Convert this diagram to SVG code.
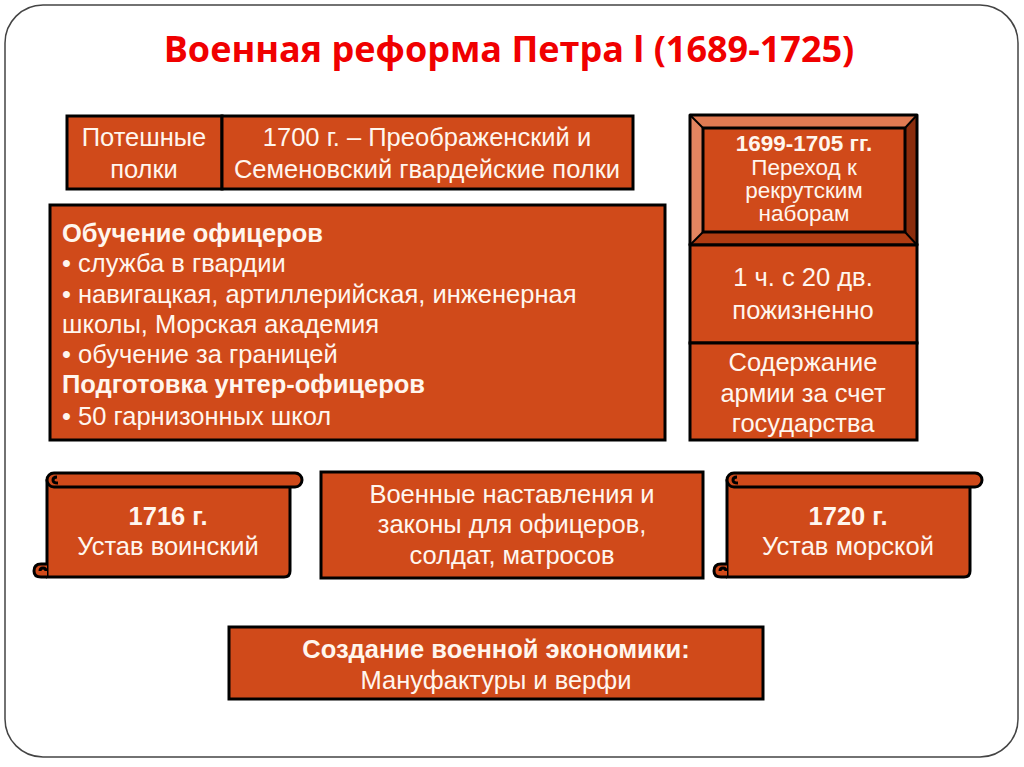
<svg xmlns="http://www.w3.org/2000/svg" width="1024" height="767" viewBox="0 0 1024 767">
<style>
.box{fill:#D04A1A;stroke:#000;stroke-width:3}
.sc{fill:#D04A1A;stroke:#000;stroke-width:3;stroke-linejoin:round}
.t{font-family:"Liberation Sans",Arial,sans-serif;font-size:25.5px;fill:#FFF6EE}
.s{font-size:22.5px}
.c{text-anchor:middle}
.b{font-weight:bold}
.ln{fill:none;stroke:#000;stroke-width:3;stroke-linejoin:round}
</style>
<rect x="0" y="0" width="1024" height="767" fill="#fff"/>
<rect x="5" y="5" width="1013" height="752" rx="38" ry="38" fill="#fff" stroke="#444" stroke-width="1.5"/>
<text x="509" y="62" text-anchor="middle" font-family="'Open Sans','Liberation Sans',sans-serif" font-weight="bold" font-size="36" fill="#F00000">Военная реформа Петра l (1689-1725)</text>

<g id="poteshnye">
<rect class="box" x="67" y="116" width="155" height="73"/>
<text class="t c" x="144" y="146">Потешные</text>
<text class="t c" x="144" y="178">полки</text>
</g>
<g id="gvardia">
<rect class="box" x="222" y="116" width="411" height="73"/>
<text class="t c" x="427" y="146">1700 г. – Преображенский и</text>
<text class="t c" x="427" y="178">Семеновский гвардейские полки</text>
</g>

<g id="obuchenie">
<rect class="box" x="50" y="205" width="615" height="235"/>
<text class="t b" x="62" y="242">Обучение офицеров</text>
<text class="t" x="62" y="272">• служба в гвардии</text>
<text class="t" x="62" y="303">• навигацкая, артиллерийская, инженерная</text>
<text class="t" x="62" y="333">школы, Морская академия</text>
<text class="t" x="62" y="363">• обучение за границей</text>
<text class="t b" x="62" y="393">Подготовка унтер-офицеров</text>
<text class="t" x="62" y="425">• 50 гарнизонных школ</text>
</g>

<g id="rekrut">
<rect x="690" y="115" width="227" height="130" fill="#D04A1A"/>
<polygon points="690,115 917,115 905,128 703,128" fill="#E07A52"/>
<polygon points="690,115 703,128 703,232 690,245" fill="#E38560"/>
<polygon points="917,115 917,245 905,232 905,128" fill="#8A2C0C"/>
<polygon points="690,245 703,232 905,232 917,245" fill="#B03C12"/>
<rect x="690" y="115" width="227" height="130" class="ln"/>
<rect x="703" y="128" width="202" height="104" class="ln"/>
<line x1="690" y1="115" x2="703" y2="128" stroke="#000" stroke-width="2"/>
<line x1="917" y1="115" x2="905" y2="128" stroke="#000" stroke-width="2"/>
<line x1="690" y1="245" x2="703" y2="232" stroke="#000" stroke-width="2"/>
<line x1="917" y1="245" x2="905" y2="232" stroke="#000" stroke-width="2"/>
<text class="t s c b" x="804" y="151">1699-1705 гг.</text>
<text class="t s c" x="804" y="175">Переход к</text>
<text class="t s c" x="804" y="198">рекрутским</text>
<text class="t s c" x="804" y="221">наборам</text>
</g>
<g id="dvor">
<rect class="box" x="690" y="245" width="227" height="98"/>
<text class="t c" x="803" y="286">1 ч. с 20 дв.</text>
<text class="t c" x="803" y="319">пожизненно</text>
</g>
<g id="soderzhanie">
<rect class="box" x="690" y="343" width="227" height="97"/>
<text class="t c" x="803" y="371">Содержание</text>
<text class="t c" x="803" y="402">армии за счет</text>
<text class="t c" x="803" y="432">государства</text>
</g>

<g id="ustav-voinsky">
<path d="M47,480 L290,480 L290,571 Q290,577 284,577 L47,577 Z" class="sc"/>
<rect x="47" y="473" width="255" height="14" rx="7" class="sc"/>
<path d="M58,483 Q53,483 53,480 Q53,477 57,477" class="ln" stroke-width="2"/>
<path d="M47,577 L41,577 Q34,577 34,571 Q34,564 41,564 L47,564" class="sc"/>
<path d="M40,571 Q40,568 43,568 Q46,568 46,571" class="ln" stroke-width="2"/>
<text class="t c b" x="168" y="525">1716 г.</text>
<text class="t c" x="168" y="555">Устав воинский</text>
</g>

<g id="nastavleniya">
<rect class="box" x="321" y="472" width="382" height="106"/>
<text class="t c" x="512" y="503">Военные наставления и</text>
<text class="t c" x="512" y="533">законы для офицеров,</text>
<text class="t c" x="512" y="564">солдат, матросов</text>
</g>

<g id="ustav-morskoy">
<path d="M727,480 L970,480 L970,571 Q970,577 964,577 L727,577 Z" class="sc"/>
<rect x="727" y="473" width="255" height="14" rx="7" class="sc"/>
<path d="M738,483 Q733,483 733,480 Q733,477 737,477" class="ln" stroke-width="2"/>
<path d="M727,577 L721,577 Q714,577 714,571 Q714,564 721,564 L727,564" class="sc"/>
<path d="M720,571 Q720,568 723,568 Q726,568 726,571" class="ln" stroke-width="2"/>
<text class="t c b" x="848" y="525">1720 г.</text>
<text class="t c" x="848" y="555">Устав морской</text>
</g>

<g id="ekonomika">
<rect class="box" x="229" y="627" width="534" height="72"/>
<text class="t c b" x="496" y="658">Создание военной экономики:</text>
<text class="t c" x="496" y="689">Мануфактуры и верфи</text>
</g>
<g id="connectors"></g>
</svg>
